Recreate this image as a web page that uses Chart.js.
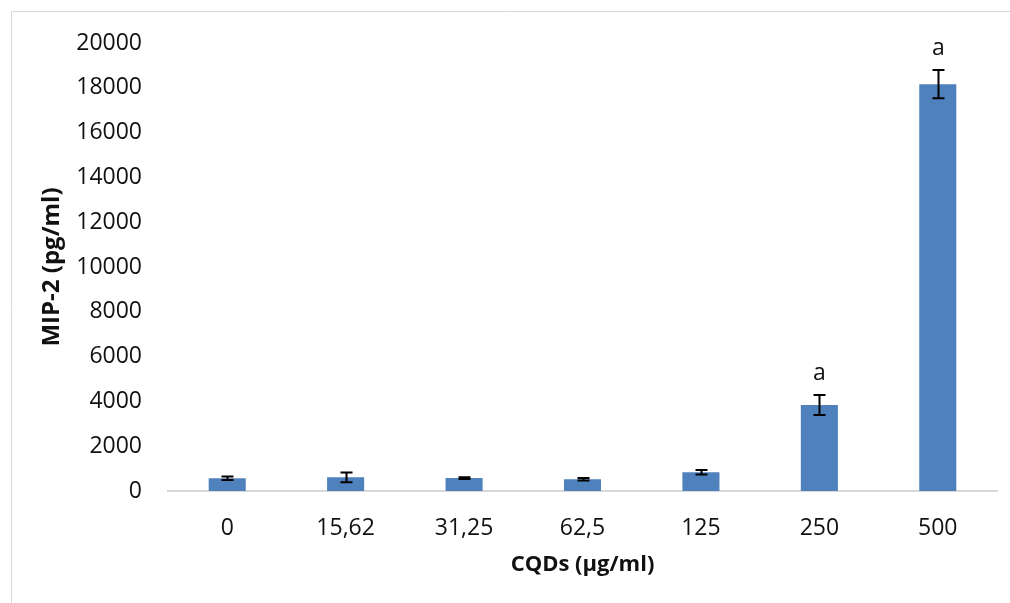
<!DOCTYPE html>
<html>
<head>
<meta charset="utf-8">
<script src="https://cdn.jsdelivr.net/npm/chart.js@4.4.1/dist/chart.umd.min.js"></script>
<style>
  html, body { margin: 0; padding: 0; background: #fff; }
  #wrap { position: relative; width: 1010px; height: 603px; }
</style>
</head>
<body>
<div id="wrap"><canvas id="c" width="1010" height="603"></canvas></div>
<script>
// CQD concentrations (µg/ml)
const categories = ['0', '15,62', '31,25', '62,5', '125', '250', '500'];
// MIP-2 mean (pg/ml)
const meanValues = [570, 610, 575, 525, 840, 3840, 18160];
// standard deviation (pg/ml)
const errorValues = [80, 220, 35, 60, 100, 445, 630];
// significance letters
const sigLetters = ['', '', '', '', '', 'a', 'a'];
// y-axis range
const yMin = 0, yMax = 20000, yStep = 2000;

const FONT = "'Open Sans', 'DejaVu Sans', sans-serif";
const TEXT = '#111111';

// outer frame of the chart block
const framePlugin = {
  id: 'frame',
  beforeDraw(chart) {
    const ctx = chart.ctx;
    ctx.save();
    ctx.fillStyle = '#ffffff';
    ctx.fillRect(0, 0, chart.width, chart.height);
    ctx.strokeStyle = '#d9d9d9';
    ctx.lineWidth = 1;
    ctx.beginPath();
    ctx.moveTo(11.5, chart.height);
    ctx.lineTo(11.5, 11.5);
    ctx.lineTo(chart.width, 11.5);
    ctx.stroke();
    ctx.restore();
  }
};

// error bars and significance letters
const errorPlugin = {
  id: 'errorBars',
  afterDatasetsDraw(chart) {
    const ctx = chart.ctx;
    const meta = chart.getDatasetMeta(0);
    const y = chart.scales.y;
    ctx.save();
    meta.data.forEach((bar, i) => {
      const m = meanValues[i], e = errorValues[i];
      const x = Math.round(bar.x) + 0.5;
      const yTop = y.getPixelForValue(m + e);
      const yBot = y.getPixelForValue(m - e);
      ctx.strokeStyle = '#000';
      ctx.lineWidth = 2;
      ctx.beginPath();
      ctx.moveTo(x, yTop); ctx.lineTo(x, yBot);
      ctx.moveTo(x - 6, yTop); ctx.lineTo(x + 6, yTop);
      ctx.moveTo(x - 6, yBot); ctx.lineTo(x + 6, yBot);
      ctx.stroke();
      if (sigLetters[i]) {
        ctx.fillStyle = TEXT;
        ctx.font = "23px " + FONT;
        ctx.textAlign = 'center';
        ctx.textBaseline = 'middle';
        ctx.fillText(sigLetters[i], x, yTop - 22);
      }
    });
    ctx.restore();
  }
};

new Chart(document.getElementById('c'), {
  type: 'bar',
  data: {
    labels: categories,
    datasets: [{
      data: meanValues,
      backgroundColor: '#4f81bd',
      borderWidth: 0,
      categoryPercentage: 1,
      barPercentage: 0.313
    }]
  },
  options: {
    responsive: false,
    animation: false,
    devicePixelRatio: 1,
    layout: { padding: { left: 0, right: 13, top: 43, bottom: 0 } },
    plugins: {
      legend: { display: false },
      tooltip: { enabled: false }
    },
    scales: {
      x: {
        grid: { display: false, drawTicks: false },
        border: { display: true, color: '#d9d9d9', width: 2 },
        ticks: { color: TEXT, font: { family: FONT, size: 23 }, padding: 24, maxRotation: 0 },
        title: {
          display: true, text: 'CQDs (µg/ml)', color: TEXT,
          font: { family: FONT, size: 22, weight: 'bold' },
          padding: { top: 0, bottom: 25 }
        },
        afterFit(scale) { scale.height = 112; }
      },
      y: {
        min: yMin, max: yMax,
        grid: { display: false, drawTicks: false },
        border: { display: false },
        ticks: {
          stepSize: yStep, color: TEXT, font: { family: FONT, size: 23 }, padding: 26,
          callback: (v) => String(v)
        },
        title: {
          display: true, text: 'MIP-2 (pg/ml)', color: TEXT,
          font: { family: FONT, size: 24, weight: 'bold' },
          padding: { top: 38, bottom: 0 }
        },
        afterFit(scale) { scale.width = 168; }
      }
    }
  },
  plugins: [framePlugin, errorPlugin]
});
</script>
</body>
</html>
